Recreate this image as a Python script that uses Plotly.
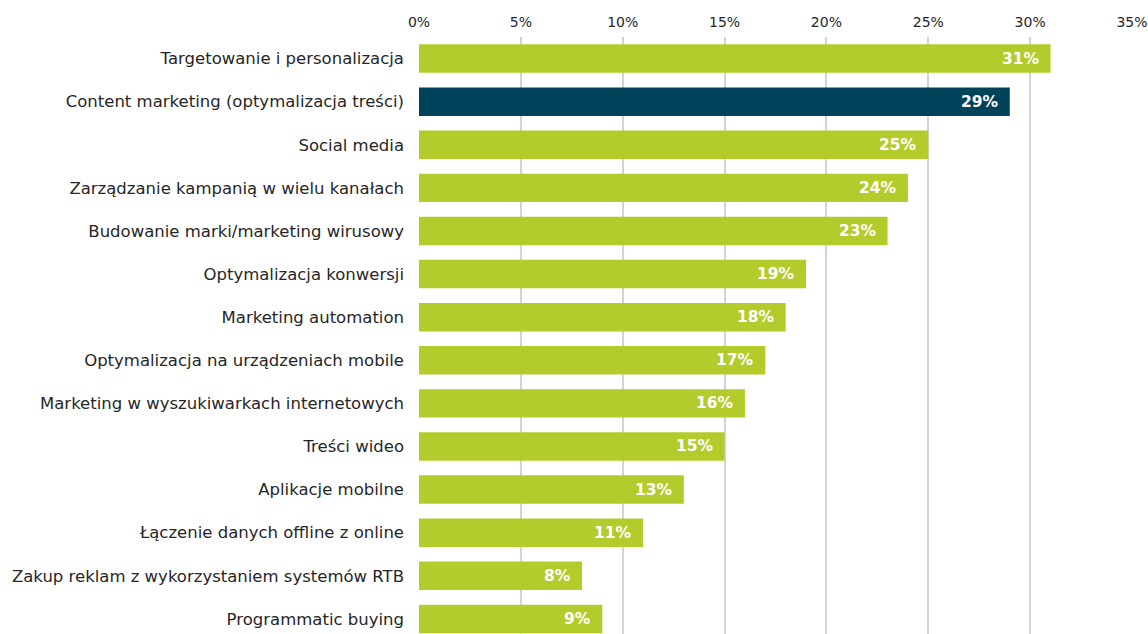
import plotly.graph_objects as go

categories = [
    "Targetowanie i personalizacja",
    "Content marketing (optymalizacja treści)",
    "Social media",
    "Zarządzanie kampanią w wielu kanałach",
    "Budowanie marki/marketing wirusowy",
    "Optymalizacja konwersji",
    "Marketing automation",
    "Optymalizacja na urządzeniach mobile",
    "Marketing w wyszukiwarkach internetowych",
    "Treści wideo",
    "Aplikacje mobilne",
    "Łączenie danych offline z online",
    "Zakup reklam z wykorzystaniem systemów RTB",
    "Programmatic buying",
]
values = [31, 29, 25, 24, 23, 19, 18, 17, 16, 15, 13, 11, 8, 9]
highlight = "Content marketing (optymalizacja treści)"
tick_vals = [0, 5, 10, 15, 20, 25, 30, 35]
tick_text = [f"{v}%" for v in tick_vals]

GREEN = "#b3cc2b"
DARK = "#01435a"
FONT = "DejaVu Sans"

colors = [DARK if c == highlight else GREEN for c in categories]

fig = go.Figure(
    go.Bar(
        x=values,
        y=categories,
        orientation="h",
        marker=dict(color=colors, line=dict(width=0)),
        hoverinfo="skip",
    )
)

for c, v in zip(categories, values):
    fig.add_annotation(
        x=v, y=c, text=f"<b>{v}%</b>", showarrow=False,
        xanchor="right", xshift=-9,
        font=dict(family=FONT, size=15.5, color="white"),
    )

fig.update_layout(
    width=1148, height=634,
    margin=dict(l=419, r=16, t=37, b=0),
    paper_bgcolor="white", plot_bgcolor="white",
    bargap=0.34,
    showlegend=False,
    font=dict(family=FONT, color="#262626"),
)
fig.update_xaxes(
    side="top", range=[0, 35], tickvals=tick_vals, ticktext=tick_text,
    showgrid=True, gridcolor="#d0d4d9", gridwidth=1.5,
    zeroline=False, showline=False, ticks="",
    tickfont=dict(family=FONT, size=14, color="#262626"),
    ticklabelstandoff=6,
)
fig.update_yaxes(
    categoryorder="array", categoryarray=categories,
    range=[13.35, -0.5], showgrid=False, zeroline=False, showline=False,
    ticks="", ticklabelstandoff=14,
    tickfont=dict(family=FONT, size=16.5, color="#262626"),
)

fig.write_html("out.html")
